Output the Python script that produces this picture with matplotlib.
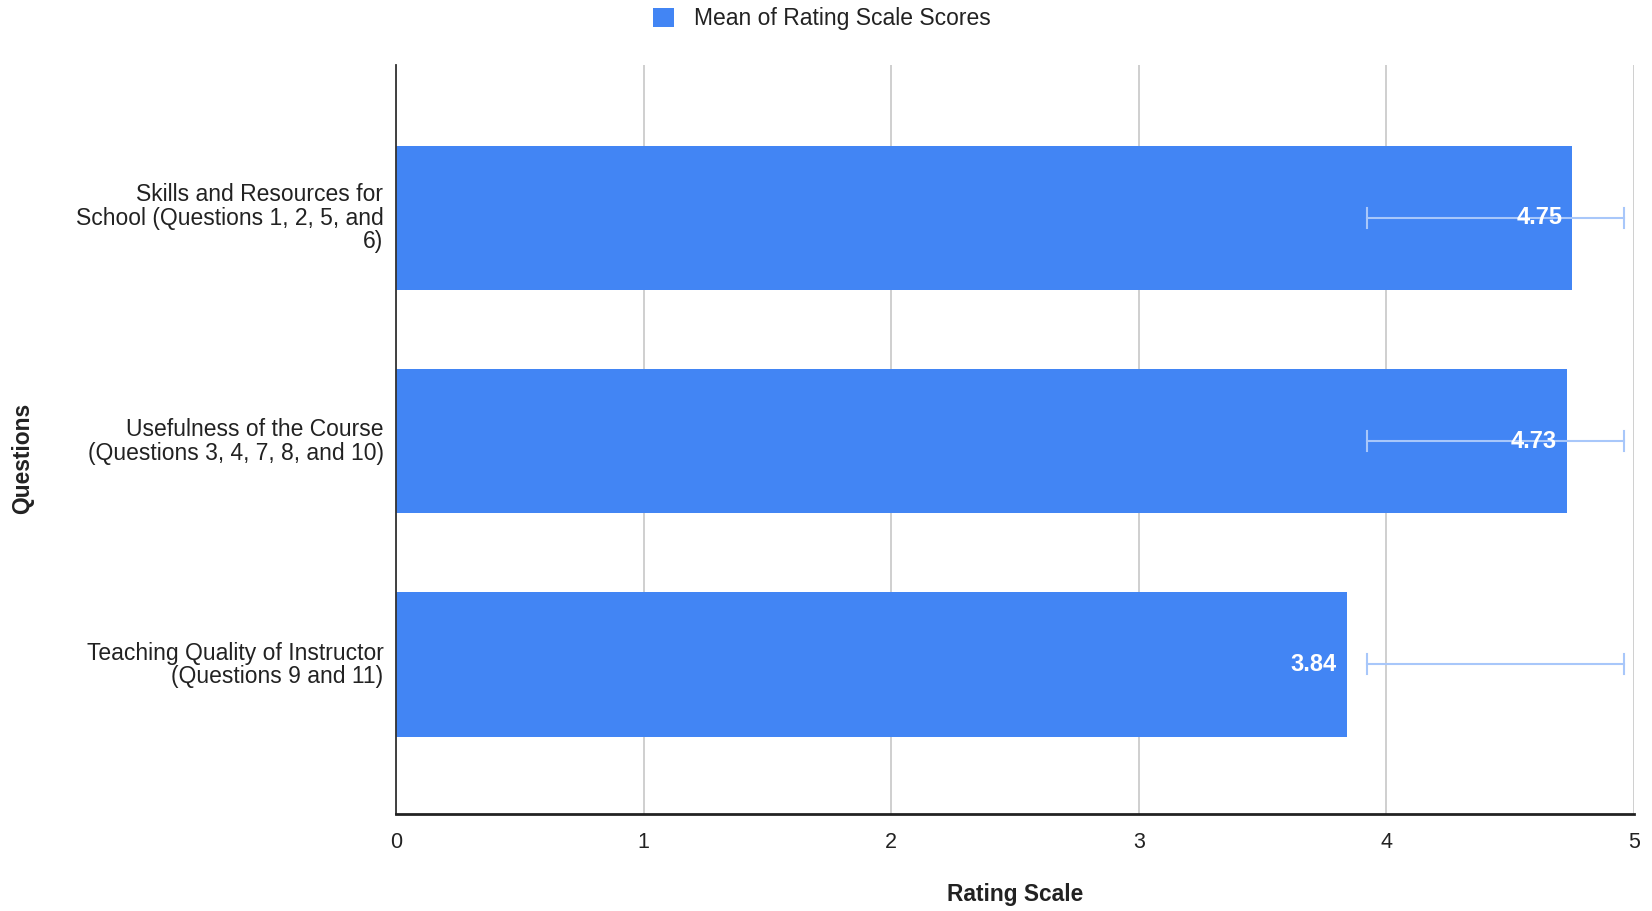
import numpy as np
from matplotlib import pyplot as plt

categories = ['Skills and Resources for\nSchool (Questions 1, 2, 5, and\n6)',
              'Usefulness of the Course\n(Questions 3, 4, 7, 8, and 10)',
              'Teaching Quality of Instructor\n(Questions 9 and 11)']
means = [4.75, 4.73, 3.84]
err_low = [3.92, 3.92, 3.92]
err_high = [4.96, 4.96, 4.96]
x_ticks = [0, 1, 2, 3, 4, 5]

plt.rcParams['font.family'] = ['Liberation Sans', 'DejaVu Sans']

fig = plt.figure(figsize=(16.52, 9.11), dpi=100)
ax = fig.add_axes([396 / 1652, 1 - 814 / 911, (1634 - 396) / 1652, (814 - 65) / 911])

y = np.arange(len(categories))
bar_color = '#4285f4'
ax.barh(y, means, height=0.646, color=bar_color, zorder=2, label='Mean of Rating Scale Scores')

# error bars (same range for every row)
for i in range(len(categories)):
    ax.plot([err_low[i], err_high[i]], [y[i], y[i]], color='#a8c7fa', lw=1.5, zorder=3)
    for xe in (err_low[i], err_high[i]):
        ax.plot([xe, xe], [y[i] - 0.045, y[i] + 0.045], color='#a8c7fa', lw=1.5, zorder=3)

for i, v in enumerate(means):
    ax.text(v - 0.04, y[i], f'{v:.2f}', ha='right', va='center', color='white',
            fontsize=17, fontweight='bold', zorder=4)

ax.set_xlim(0, 5)
ax.set_ylim(2.67, -0.684)
ax.set_xticks(x_ticks)
ax.set_xticklabels([str(t) for t in x_ticks], fontsize=15.5, color='#222222')
ax.set_yticks(y - 0.01)
ax.set_yticklabels(categories, fontsize=16.5, color='#222222', ha='right',
                   linespacing=1.03)
ax.tick_params(axis='both', length=0)
ax.tick_params(axis='y', pad=9)
ax.tick_params(axis='x', pad=13)
ax.grid(axis='x', color='#cccccc', lw=1.3, zorder=0)
ax.set_axisbelow(True)

for s in ['top', 'right']:
    ax.spines[s].set_visible(False)
ax.spines['left'].set_color('#333333')
ax.spines['left'].set_linewidth(1.3)
ax.spines['bottom'].set_color('#222222')
ax.spines['bottom'].set_linewidth(2)

fig.text(1015 / 1652, 1 - 894 / 911, 'Rating Scale', ha='center', va='center',
         fontsize=16.4, fontweight='bold', color='#222222')
fig.text(23 / 1652, 1 - 458 / 911, 'Questions', ha='center', va='center', rotation=90,
         fontsize=16.4, fontweight='bold', color='#222222')

fig.legend(loc='center', bbox_to_anchor=(822 / 1652, 1 - 19 / 911), frameon=False,
           fontsize=16.5, handlelength=0.9, handleheight=0.9, handletextpad=0.9,
           labelcolor='#222222')

fig.savefig('out.png', dpi=100, facecolor='white')
